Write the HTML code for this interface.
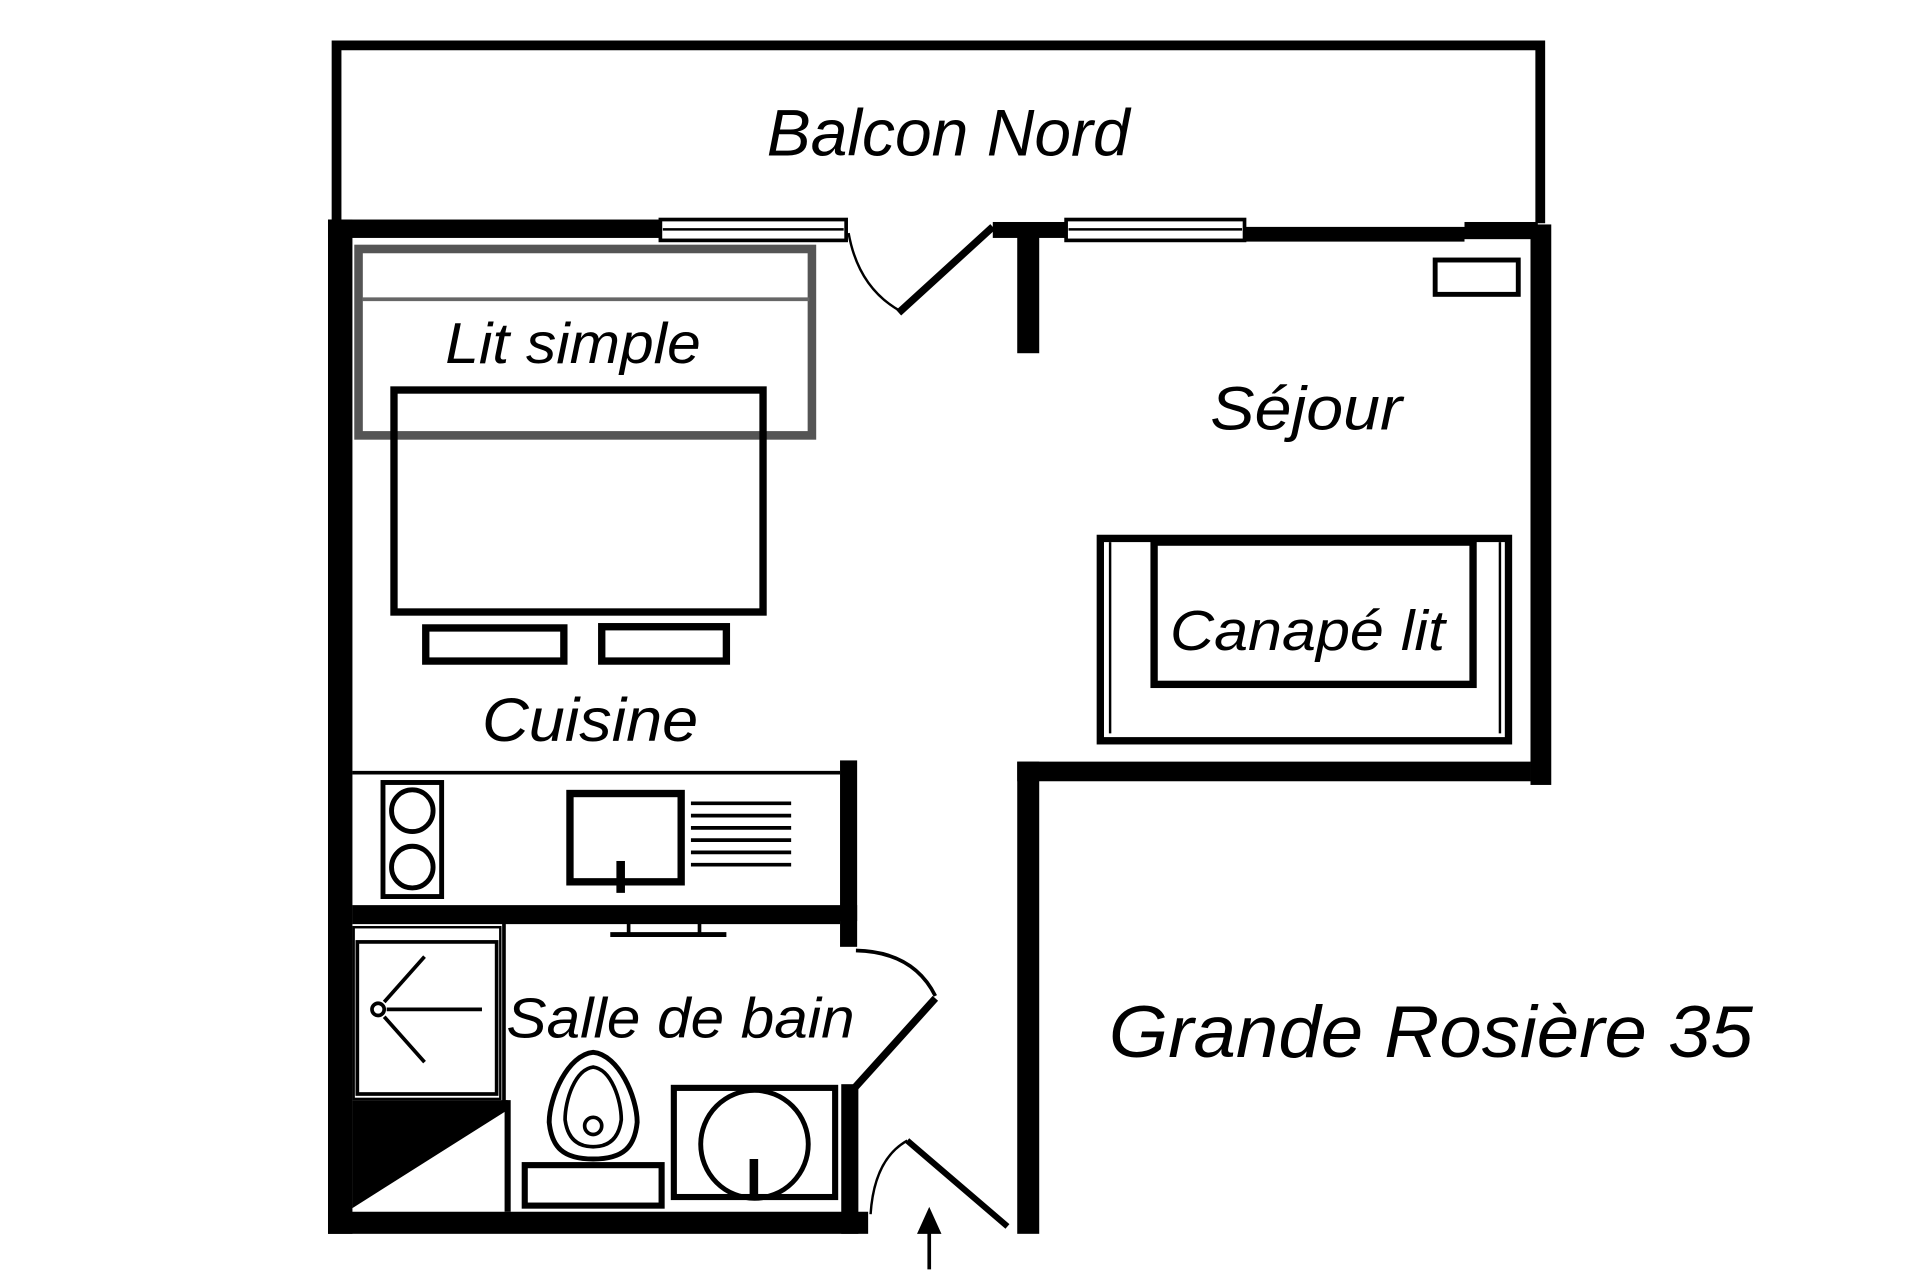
<!DOCTYPE html>
<html><head><meta charset="utf-8"><style>
html,body{margin:0;padding:0;background:#fff;}
svg{display:block;}
text{font-family:"Liberation Sans",sans-serif;font-style:italic;fill:#000;}
</style></head><body>
<svg width="1920" height="1280" viewBox="0 0 1546 1052" preserveAspectRatio="none" xmlns="http://www.w3.org/2000/svg">
<rect width="1546" height="1052" fill="#fff"/>
<g transform="matrix(0.984 0 0 1.008 2.36 0)">
<!-- balcony -->
<path d="M273 182 V37 H1258 V182" fill="none" stroke="#000" stroke-width="8"/>
<!-- top walls -->
<rect x="266" y="179" width="274" height="15" fill="#000"/>
<rect x="538" y="179" width="152" height="17" fill="#fff" stroke="#000" stroke-width="3"/>
<line x1="540" y1="187" x2="688" y2="187" stroke="#000" stroke-width="2"/>
<rect x="810" y="181" width="60" height="13" fill="#000"/>
<rect x="870" y="179" width="146" height="17" fill="#fff" stroke="#000" stroke-width="3"/>
<line x1="872" y1="187" x2="1014" y2="187" stroke="#000" stroke-width="2"/>
<rect x="1016" y="185" width="180" height="12" fill="#000"/>
<rect x="1196" y="181" width="60" height="14" fill="#000"/>
<rect x="1172" y="212" width="68" height="28" fill="none" stroke="#000" stroke-width="4"/>
<!-- pier -->
<rect x="830" y="188" width="18" height="100" fill="#000"/>
<!-- left wall -->
<rect x="266" y="179" width="20" height="827" fill="#000"/>
<!-- right wall -->
<rect x="1250" y="183" width="17" height="457" fill="#000"/>
<!-- sejour bottom wall -->
<rect x="830" y="621" width="420" height="16" fill="#000"/>
<rect x="830" y="621" width="18" height="385" fill="#000"/>
<!-- bottom wall -->
<rect x="266" y="988" width="442" height="18" fill="#000"/>
<!-- partitions -->
<rect x="685" y="620" width="14" height="152" fill="#000"/>
<rect x="686" y="884" width="14" height="122" fill="#000"/>
<!-- top door -->
<path d="M692 190 Q700 235 735 254" fill="none" stroke="#000" stroke-width="2"/>
<line x1="733" y1="255" x2="810" y2="185" stroke="#000" stroke-width="6"/>
<!-- lit simple -->
<rect x="291" y="203" width="371" height="152" fill="none" stroke="#555" stroke-width="7"/>
<line x1="294" y1="244" x2="660" y2="244" stroke="#666" stroke-width="3"/>
<!-- table -->
<rect x="320" y="318" width="302" height="181" fill="none" stroke="#000" stroke-width="6"/>
<rect x="346" y="512" width="113" height="27" fill="none" stroke="#000" stroke-width="6"/>
<rect x="490" y="511" width="102" height="28" fill="none" stroke="#000" stroke-width="6"/>
<!-- canape -->
<rect x="898" y="439" width="334" height="165" fill="none" stroke="#000" stroke-width="6"/>
<line x1="906" y1="442" x2="906" y2="598" stroke="#000" stroke-width="2"/>
<line x1="1225" y1="442" x2="1225" y2="598" stroke="#000" stroke-width="2"/>
<rect x="942" y="442" width="261" height="116" fill="none" stroke="#000" stroke-width="6"/>
<!-- kitchen counter -->
<line x1="286" y1="630" x2="685" y2="630" stroke="#000" stroke-width="3"/>
<rect x="286" y="738" width="413" height="13" fill="#000"/>
<rect x="311" y="638" width="48" height="93" fill="none" stroke="#000" stroke-width="4"/>
<circle cx="335" cy="661" r="17" fill="none" stroke="#000" stroke-width="4"/>
<circle cx="335" cy="707" r="17" fill="none" stroke="#000" stroke-width="4"/>
<rect x="464" y="647" width="91" height="72" fill="none" stroke="#000" stroke-width="6"/>
<rect x="502" y="702" width="7" height="26" fill="#000"/>
<g stroke="#000" stroke-width="3">
<line x1="563" y1="655" x2="645" y2="655"/><line x1="563" y1="665" x2="645" y2="665"/><line x1="563" y1="675" x2="645" y2="675"/><line x1="563" y1="685" x2="645" y2="685"/><line x1="563" y1="695" x2="645" y2="695"/><line x1="563" y1="705" x2="645" y2="705"/>
</g>
<line x1="497" y1="762" x2="592" y2="762" stroke="#000" stroke-width="4"/>
<line x1="512" y1="751" x2="512" y2="762" stroke="#000" stroke-width="3"/>
<line x1="570" y1="751" x2="570" y2="762" stroke="#000" stroke-width="3"/>
<!-- bath -->
<line x1="410" y1="751" x2="410" y2="898" stroke="#000" stroke-width="3"/>
<line x1="286" y1="752" x2="685" y2="752" stroke="#000" stroke-width="3"/>
<rect x="290" y="768" width="114" height="124" fill="none" stroke="#000" stroke-width="3"/>
<rect x="287" y="756" width="120" height="140" fill="none" stroke="#000" stroke-width="2"/>
<circle cx="307" cy="823" r="5" fill="none" stroke="#000" stroke-width="3"/>
<line x1="314" y1="823" x2="392" y2="823" stroke="#000" stroke-width="3"/>
<line x1="312" y1="817" x2="345" y2="780" stroke="#000" stroke-width="3"/>
<line x1="312" y1="829" x2="345" y2="866" stroke="#000" stroke-width="3"/>
<polygon points="286,897 413,897 413,905 286,985" fill="#000"/>
<line x1="413" y1="897" x2="413" y2="988" stroke="#000" stroke-width="5"/>
<!-- toilet -->
<path d="M483 858 C462 860 447 895 447 915 C449 935 458 945 483 945 C508 945 517 935 519 915 C519 895 504 860 483 858 Z" fill="none" stroke="#000" stroke-width="4"/>
<path d="M483 870 C468 872 460 897 460 913 C462 928 470 935 483 935 C496 935 504 928 506 913 C506 897 498 872 483 870 Z" fill="none" stroke="#000" stroke-width="3"/>
<circle cx="483" cy="918" r="7" fill="none" stroke="#000" stroke-width="3"/>
<rect x="427" y="950" width="112" height="33" fill="none" stroke="#000" stroke-width="5"/>
<!-- basin -->
<rect x="549" y="887" width="132" height="89" fill="none" stroke="#000" stroke-width="5"/>
<circle cx="615" cy="933" r="44" fill="none" stroke="#000" stroke-width="4"/>
<rect x="611" y="945" width="7" height="30" fill="#000"/>
<!-- bath door -->
<path d="M698 775 Q745 776 763 812" fill="none" stroke="#000" stroke-width="3"/>
<line x1="763" y1="814" x2="696" y2="888" stroke="#000" stroke-width="6"/>
<!-- entry door -->
<path d="M710 990 Q713 945 740 930" fill="none" stroke="#000" stroke-width="2"/>
<line x1="740" y1="930" x2="822" y2="1000" stroke="#000" stroke-width="5"/>
<!-- arrow -->
<line x1="758" y1="1035" x2="758" y2="1000" stroke="#000" stroke-width="3"/>
<polygon points="758,984 748,1006 768,1006" fill="#000"/>
<!-- labels -->
<text x="625" y="127" font-size="54" textLength="297" lengthAdjust="spacingAndGlyphs">Balcon Nord</text>
<text x="362" y="296" font-size="47" textLength="209" lengthAdjust="spacingAndGlyphs">Lit simple</text>
<text x="988" y="350" font-size="50" textLength="157" lengthAdjust="spacingAndGlyphs">Séjour</text>
<text x="955" y="530" font-size="46" textLength="225" lengthAdjust="spacingAndGlyphs">Canapé lit</text>
<text x="392" y="604" font-size="50" textLength="177" lengthAdjust="spacingAndGlyphs">Cuisine</text>
<text x="412" y="846" font-size="46" textLength="285" lengthAdjust="spacingAndGlyphs">Salle de bain</text>
<text x="905" y="862" font-size="60" textLength="527" lengthAdjust="spacingAndGlyphs">Grande Rosière 35</text>
</g>
</svg>
</body></html>
